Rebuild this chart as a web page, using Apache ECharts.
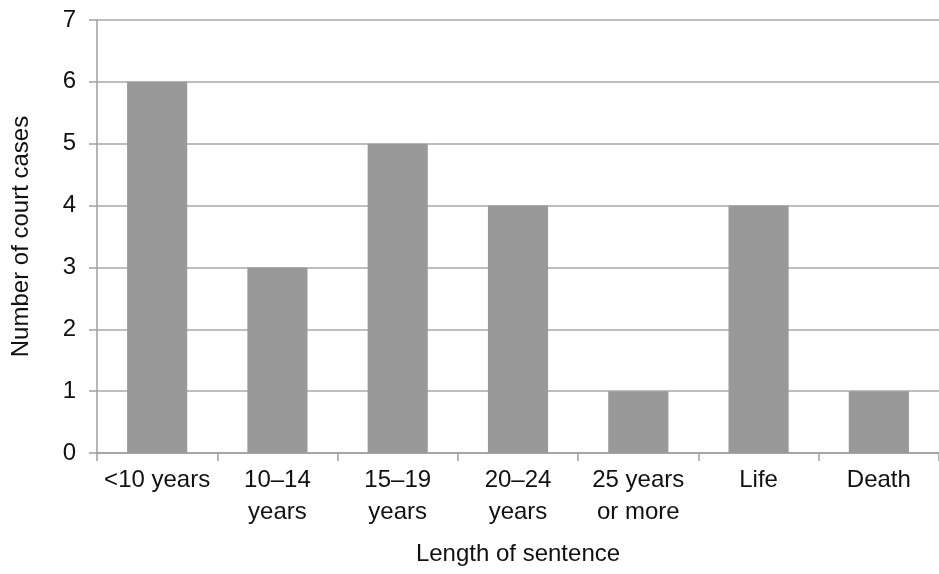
<!DOCTYPE html>
<html><head><meta charset="utf-8">
<script src="https://cdn.jsdelivr.net/npm/echarts@6/dist/echarts.min.js"></script>
<style>html,body{margin:0;padding:0;background:#fff}#c{width:939px;height:574px}</style>
</head><body><div id="c"></div>
<script>
const categories = ['<10 years', '10–14\nyears', '15–19\nyears', '20–24\nyears', '25 years\nor more', 'Life', 'Death'];
const values = [6, 3, 5, 4, 1, 4, 1];
const yTicks = { min: 0, max: 7, interval: 1 };
const xTitle = 'Length of sentence';
const yTitle = 'Number of court cases';

const font = 'Liberation Sans, Arial, Helvetica, sans-serif';
const chart = echarts.init(document.getElementById('c'), null, { renderer: 'canvas' });
chart.setOption({
  animation: false,
  backgroundColor: '#fff',
  grid: { left: 97, top: 20, width: 846, height: 433, containLabel: false },
  xAxis: {
    type: 'category',
    data: categories,
    name: xTitle,
    nameLocation: 'middle',
    nameGap: 89,
    nameTextStyle: { fontFamily: font, fontSize: 24, color: '#111' },
    axisLine: { lineStyle: { color: '#9e9e9e', width: 1.5 } },
    axisTick: { show: true, length: 8, alignWithLabel: false, lineStyle: { color: '#9e9e9e', width: 1.5 } },
    axisLabel: { interval: 0, margin: 11, fontFamily: font, fontSize: 24, lineHeight: 32, color: '#111' }
  },
  yAxis: {
    type: 'value',
    min: yTicks.min, max: yTicks.max, interval: yTicks.interval,
    name: yTitle,
    nameLocation: 'middle',
    nameGap: 64,
    nameTextStyle: { fontFamily: font, fontSize: 24, color: '#111' },
    axisLine: { show: true, lineStyle: { color: '#9e9e9e', width: 1.5 } },
    axisTick: { show: true, length: 8, lineStyle: { color: '#9e9e9e', width: 1.5 } },
    splitLine: { show: true, lineStyle: { color: '#a8a8a8', width: 1.5 } },
    axisLabel: { margin: 21, fontFamily: font, fontSize: 24, color: '#111' }
  },
  series: [{
    type: 'bar',
    data: values,
    barWidth: '50%',
    itemStyle: { color: '#999999' }
  }]
});
</script></body></html>
